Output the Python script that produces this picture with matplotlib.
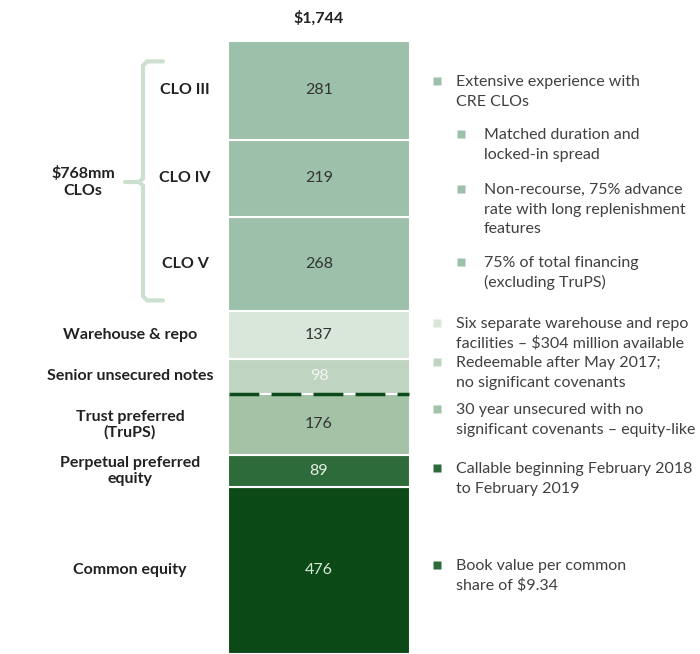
import numpy as np
import matplotlib.pyplot as plt

plt.rcParams['font.family'] = ['Lato', 'DejaVu Sans']

# data (bottom to top), $ millions
labels = ['Common equity', 'Perpetual preferred\nequity', 'Trust preferred\n(TruPS)',
          'Senior unsecured notes', 'Warehouse & repo', 'CLO V', 'CLO IV', 'CLO III']
values = [476, 89, 176, 98, 137, 268, 219, 281]
colors = ['#0b4a16', '#2e6b3a', '#a3c2a6', '#bfd5c1', '#d9e6da', '#9cc0aa', '#9cc0aa', '#9cc0aa']
val_colors = ['#d8e6d8', '#e6eee6', '#333333', '#f4f4f4', '#333333', '#333333', '#333333', '#333333']

notes = [
    ('Extensive experience with\nCRE CLOs', '#9cc0aa', 0, 82),
    ('Matched duration and\nlocked-in spread', '#9cc0aa', 1, 135),
    ('Non-recourse, 75% advance\nrate with long replenishment\nfeatures', '#9cc0aa', 1, 190),
    ('75% of total financing\n(excluding TruPS)', '#9cc0aa', 1, 263),
    ('Six separate warehouse and repo\nfacilities \u2013 $304 million available', '#d9e6da', 0, 324),
    ('Redeemable after May 2017;\nno significant covenants', '#bfd5c1', 0, 363),
    ('30 year unsecured with no\nsignificant covenants \u2013 equity-like', '#a3c2a6', 0, 410),
    ('Callable beginning February 2018\nto February 2019', '#2e6b3a', 0, 469),
    ('Book value per common\nshare of $9.34', '#2e6b3a', 0, 566),
]

W, H = 700, 654
total = sum(values)
ytop = total * H / 613.0   # bar top sits 41px below the figure top
FS = 11.5

fig = plt.figure(figsize=(W / 100, H / 100), dpi=100)
ax = fig.add_axes([0, 0, 1, 1])
ax.set_xlim(0, W)
ax.set_ylim(0, ytop)
ax.axis('off')

def py(y_px):
    # pixel row -> data y
    return (H - y_px) * ytop / H

bottoms = np.concatenate([[0], np.cumsum(values)[:-1]])
bars = ax.bar(319, values, bottom=bottoms, width=182, color=colors,
              edgecolor='white', linewidth=1.5)

for b, v, c, lab in zip(bottoms, values, val_colors, labels):
    mid = b + v / 2
    ax.text(319, mid, str(v), ha='center', va='center', fontsize=FS, color=c)
    lx = 185 if lab.startswith('CLO') else 130
    ax.text(lx, mid, lab, ha='center', va='center', fontsize=FS,
            fontweight='bold', color='#222222', linespacing=1.1)

ax.text(319, py(18), '${:,}'.format(total), ha='center', va='center',
        fontsize=FS, fontweight='bold', color='#222222')

# dashed divider between debt and equity-like capital
ydiv = sum(values[:3])
ax.plot([229, 409], [ydiv, ydiv], color='#0b4a1a', lw=2.5, dashes=(8.6, 3.5),
        solid_capstyle='butt')

# brace for the CLOs
clo_bot = sum(values[:5])
b_top, b_bot = total - 58, clo_bot + 30
b_mid = py(182)
bx = 143
bc = '#cde0cf'
ax.plot([163, bx + 4, bx, bx, bx - 4, 125], [b_top, b_top, b_top - 12, b_mid + 10, b_mid, b_mid],
        color=bc, lw=3, solid_capstyle='round', solid_joinstyle='round')
ax.plot([163, bx + 4, bx, bx, bx - 4], [b_bot, b_bot, b_bot + 12, b_mid - 10, b_mid],
        color=bc, lw=3, solid_capstyle='round', solid_joinstyle='round')
ax.text(83, b_mid, '$768mm\nCLOs', ha='center', va='center', fontsize=FS,
        fontweight='bold', color='#222222', linespacing=1.25)

# right-hand notes
for txt, c, lvl, y in notes:
    mx = 437 if lvl == 0 else 461
    tx = 456 if lvl == 0 else 484
    ax.plot(mx, py(y - 1), marker='s', ms=6, color=c, mec='none')
    for i, line in enumerate(txt.split('\n')):
        ax.text(tx, py(y + i * 19.7), line, ha='left', va='center',
                fontsize=FS, color='#404040')

fig.savefig('out.png', dpi=100)
